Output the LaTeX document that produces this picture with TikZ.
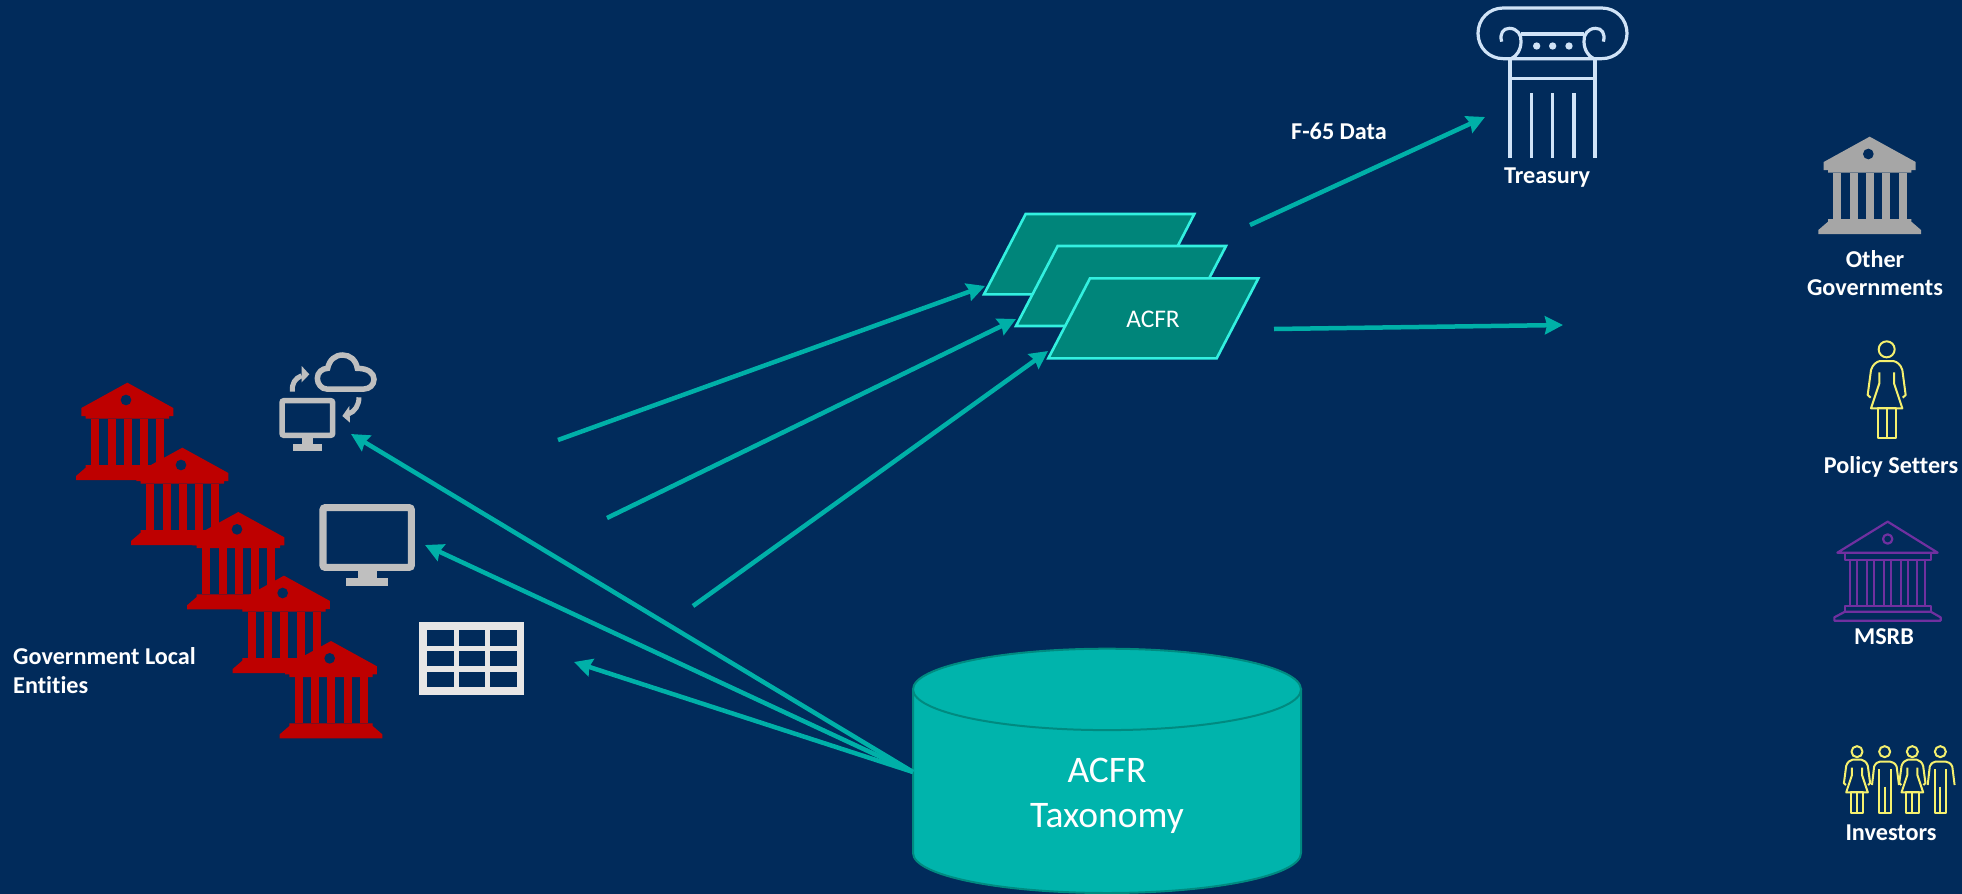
\documentclass[tikz,border=0pt]{standalone}
\usepackage{fontspec}
\setmainfont[Ligatures=NoCommon]{Carlito}
\usetikzlibrary{arrows.meta}
\definecolor{navybg}{HTML}{012B5B}
\definecolor{tealline}{HTML}{00B0A8}
\definecolor{tealbody}{HTML}{00B4AC}
\definecolor{tealedge}{HTML}{008A80}
\definecolor{sheetfill}{HTML}{00857A}
\definecolor{sheetedge}{HTML}{33F0E0}
\definecolor{bankred}{HTML}{BE0000}
\definecolor{bankgrey}{HTML}{A6A6A6}
\definecolor{iconpale}{HTML}{BFBFBF}
\definecolor{tablepale}{HTML}{E7E6E6}
\definecolor{capitalblue}{HTML}{D0E3F7}
\definecolor{personyellow}{HTML}{F5F06E}
\definecolor{msrbpurple}{HTML}{7030A0}
\tikzset{
	lab/.style={font=\bfseries\fontsize{24.2}{28}\selectfont,text=white,align=center,inner sep=0pt},
	feed/.style={draw=tealline,line width=4.5pt,-{Stealth[length=18pt,width=18pt,inset=2pt]}},
	sheet/.style={draw=sheetedge,fill=sheetfill,line width=2.6pt},
	store/.style={draw=tealedge,fill=tealbody,line width=2pt},
	person/.style={draw=personyellow,line width=2pt,line join=round},
	bank/.pic={
		\path[pic actions] (0,0) -- (138,76) -- (138,100) -- (125,100) -- (125,108) -- (-125,108) -- (-125,100) -- (-138,100) -- (-138,76) -- cycle;
		\foreach \cx in {-97,-47.5,1,50,99} {
			\path[pic actions] (\cx-12,108) rectangle (\cx+12,247);
		}
		\path[pic actions] (-125,247) -- (125,247) -- (125,255) -- (154,280) -- (154,292) -- (-154,292) -- (-154,280) -- (-125,255) -- cycle;
		\fill[navybg] (-4,52) circle [radius=16];
	},
	woman/.pic={
		\path[person] (0,0) circle [radius=24];
		\path[person] (-48,145) -- (-57,137) -- (-47,62) .. controls (-42,45) and (-30,37) .. (-20,35) -- (20,35) .. controls (30,37) and (42,45) .. (47,62) -- (57,137) -- (48,145);
		\path[person] (-22,69) -- (-22,102) -- (-47,177) -- (47,177) -- (22,102) -- (22,69);
		\path[person] (-27,177) rectangle (28,267) (0,177) -- (0,267);
	},
	man/.pic={
		\path[person] (0,0) circle [radius=24];
		\path[person] (-55,145) -- (-46,65) .. controls (-40,50) and (-30,44) .. (-20,43) -- (23,43) .. controls (33,44) and (46,50) .. (52,65) -- (62,145);
		\path[person] (-25,77) -- (-25,265) -- (26,265) -- (26,77) (0,152) -- (0,265);
	}
}
\begin{document}
\begin{tikzpicture}[x=1pt,y=-1pt]
\fill[navybg] (0,0) rectangle (1962,894);
\useasboundingbox (0,0) rectangle (1962,894);

% red banks
\begin{scope}[shift={(50,340)},scale=1/3]
	\pic[fill=bankred,scale=1/3] at (232,128) {bank};
	\pic[fill=bankred,scale=1/3] at (397,323) {bank};
	\pic[fill=bankred,scale=1/3] at (565,516) {bank};
	\pic[fill=bankred,scale=1/3] at (702,707) {bank};
	\pic[fill=bankred,scale=1/3] at (843,903) {bank};
	% big monitor
	\draw[iconpale,line width=7pt,rounded corners=2pt] (819,503) rectangle (1084,682);
	\fill[iconpale] (924,692) rectangle (980,715);
	\fill[iconpale] (888,715) rectangle (1015,737);
	% table
	\fill[tablepale] (1108,846) rectangle (1423,1065);
	\foreach \cx in {1131,1226,1321} {
		\foreach \cy/\ch in {870/47,933/46,995/47} {
			\fill[navybg] (\cx,\cy) rectangle (\cx+80,\cy+\ch);
		}
	}
\end{scope}

% cloud and small monitor
\begin{scope}[shift={(260,340)},scale=1/3]
	\draw[iconpale,line width=5.5pt,rounded corners=2pt] (66,182) rectangle (218,286);
	\fill[iconpale] (126,292) rectangle (159,312);
	\fill[iconpale] (100,312) rectangle (185,332);
	\draw[iconpale,line width=5.5pt] (200,147) .. controls (185,147) and (172,132) .. (172,115) .. controls (172,97) and (187,85) .. (203,85) .. controls (208,60) and (225,45) .. (248,45) .. controls (270,45) and (288,60) .. (292,85) .. controls (325,85) and (342,100) .. (342,118) .. controls (342,135) and (328,147) .. (312,147) -- cycle;
	\draw[iconpale,line width=5pt] (97,155) .. controls (95,130) and (105,115) .. (125,107);
	\fill[iconpale] (125,78) -- (148,103) -- (125,127) -- cycle;
	\draw[iconpale,line width=5pt] (297,172) .. controls (297,195) and (285,215) .. (265,222);
	\fill[iconpale] (268,198) -- (247,228) -- (270,248) -- cycle;
\end{scope}

% report sheets
\begin{scope}[shift={(960,190)},scale=1/3]
	\draw[sheet] (197,72) -- (703,72) -- (578,313) -- (72,313) -- cycle;
	\draw[sheet] (293,168) -- (798,168) -- (673,408) -- (168,408) -- cycle;
	\draw[sheet] (390,265) -- (895,265) -- (770,505) -- (265,505) -- cycle;
\end{scope}
\node[text=white,inner sep=0pt,font=\fontsize{25.4}{28}\selectfont] (acfr) at (1153,319) {ACFR};

% treasury column
\begin{scope}[shift={(1440,0)},scale=1/3,draw=capitalblue,line width=3.2pt]
	\draw (485,176) -- (190,176) .. controls (147,176) and (114,143) .. (114,100) .. controls (114,57) and (147,24) .. (190,24) -- (485,24) .. controls (528,24) and (561,57) .. (561,100) .. controls (561,143) and (528,176) .. (485,176);
	\draw (185,125) .. controls (178,100) and (190,85) .. (208,85) .. controls (232,85) and (245,105) .. (243,125) .. controls (243,150) and (228,170) .. (215,175);
	\draw (490,125) .. controls (497,100) and (485,85) .. (467,85) .. controls (443,85) and (430,105) .. (432,125) .. controls (432,150) and (447,170) .. (460,175);
	\draw (243,102) -- (432,102);
	\foreach \dx in {290,338,387} {
		\fill[capitalblue] (\dx,138) circle [radius=11];
	}
	\draw (210,176) -- (210,475) (465,176) -- (465,475) (210,235) -- (465,235);
	\draw (275,280) -- (275,475) (337,280) -- (337,475) (402,280) -- (402,475);
\end{scope}

% grey bank and policy setter
\begin{scope}[shift={(1800,120)},scale=1/3]
	\pic[fill=bankgrey,scale=1/3] at (209,50) {bank};
	\pic[scale=1/3] at (260,688) {woman};
\end{scope}

% msrb and investors
\begin{scope}[shift={(1800,500)},scale=1/3]
	\begin{scope}[draw=msrbpurple,line width=2.2pt,line join=round]
		\draw (263,65) -- (413,158) -- (112,158) -- cycle;
		\draw (263,117) circle [radius=14];
		\draw (135,160) rectangle (392,180);
		\foreach \cx in {161,211,263,313,363} {
			\draw (\cx-11,180) -- (\cx-11,317) (\cx+11,180) -- (\cx+11,317);
		}
		\draw (135,317) rectangle (392,335);
		\draw (135,335) -- (392,335) -- (422,352) -- (422,362) -- (103,362) -- (103,352) -- cycle;
	\end{scope}
	\pic[scale=.23] at (171,755) {woman};
	\pic[scale=.23] at (254,755) {man};
	\pic[scale=.23] at (337,755) {woman};
	\pic[scale=.23] at (421,755) {man};
\end{scope}

% taxonomy store
\draw[store] (913,689.4) -- (913,853) .. controls (913,875.5) and (1000,893) .. (1107,893) .. controls (1214,893) and (1301,875.5) .. (1301,853) -- (1301,689.4) -- cycle;
\draw[store] (1107,689.4) ellipse [x radius=194pt,y radius=40.7pt];
\node[text=white,inner sep=0pt,align=center,font=\fontsize{37.5}{45}\selectfont] (taxonomy) at (1107,796) {ACFR\\Taxonomy};

% labels
\node[lab] (treasury) at (1547,178) {Treasury};
\node[lab] (f65) at (1339,131) {F-65 Data};
\node[lab] (othergov) at (1875,273) {Other\\Governments};
\node[lab] (policy) at (1891,467) {Policy Setters};
\node[lab] (msrb) at (1884,637) {MSRB};
\node[lab] (investors) at (1891,833) {Investors};
\node[lab,align=left,anchor=west] (local) at (13,671) {Government Local\\[1pt]Entities};

% arrow ends
\coordinate (taxsource) at (913,772);
\coordinate (cloudend) at (351,434);
\coordinate (screenend) at (425,545);
\coordinate (tableend) at (574,662);
\coordinate (inA) at (558,440);
\coordinate (inB) at (607,518);
\coordinate (inC) at (693,606);
\coordinate (sheetA) at (985,286);
\coordinate (sheetB) at (1016,319);
\coordinate (sheetC) at (1048,351);
\coordinate (outA) at (1250,225);
\coordinate (outB) at (1274,329);
\coordinate (treasuryend) at (1485,117);
\coordinate (rightend) at (1563,325);

\draw[feed] (taxsource) -- (cloudend);
\draw[feed] (taxsource) -- (screenend);
\draw[feed] (taxsource) -- (tableend);
\draw[feed] (inA) -- (sheetA);
\draw[feed] (inB) -- (sheetB);
\draw[feed] (inC) -- (sheetC);
\draw[feed] (outA) -- (treasuryend);
\draw[feed] (outB) -- (rightend);
\end{tikzpicture}
\end{document}
